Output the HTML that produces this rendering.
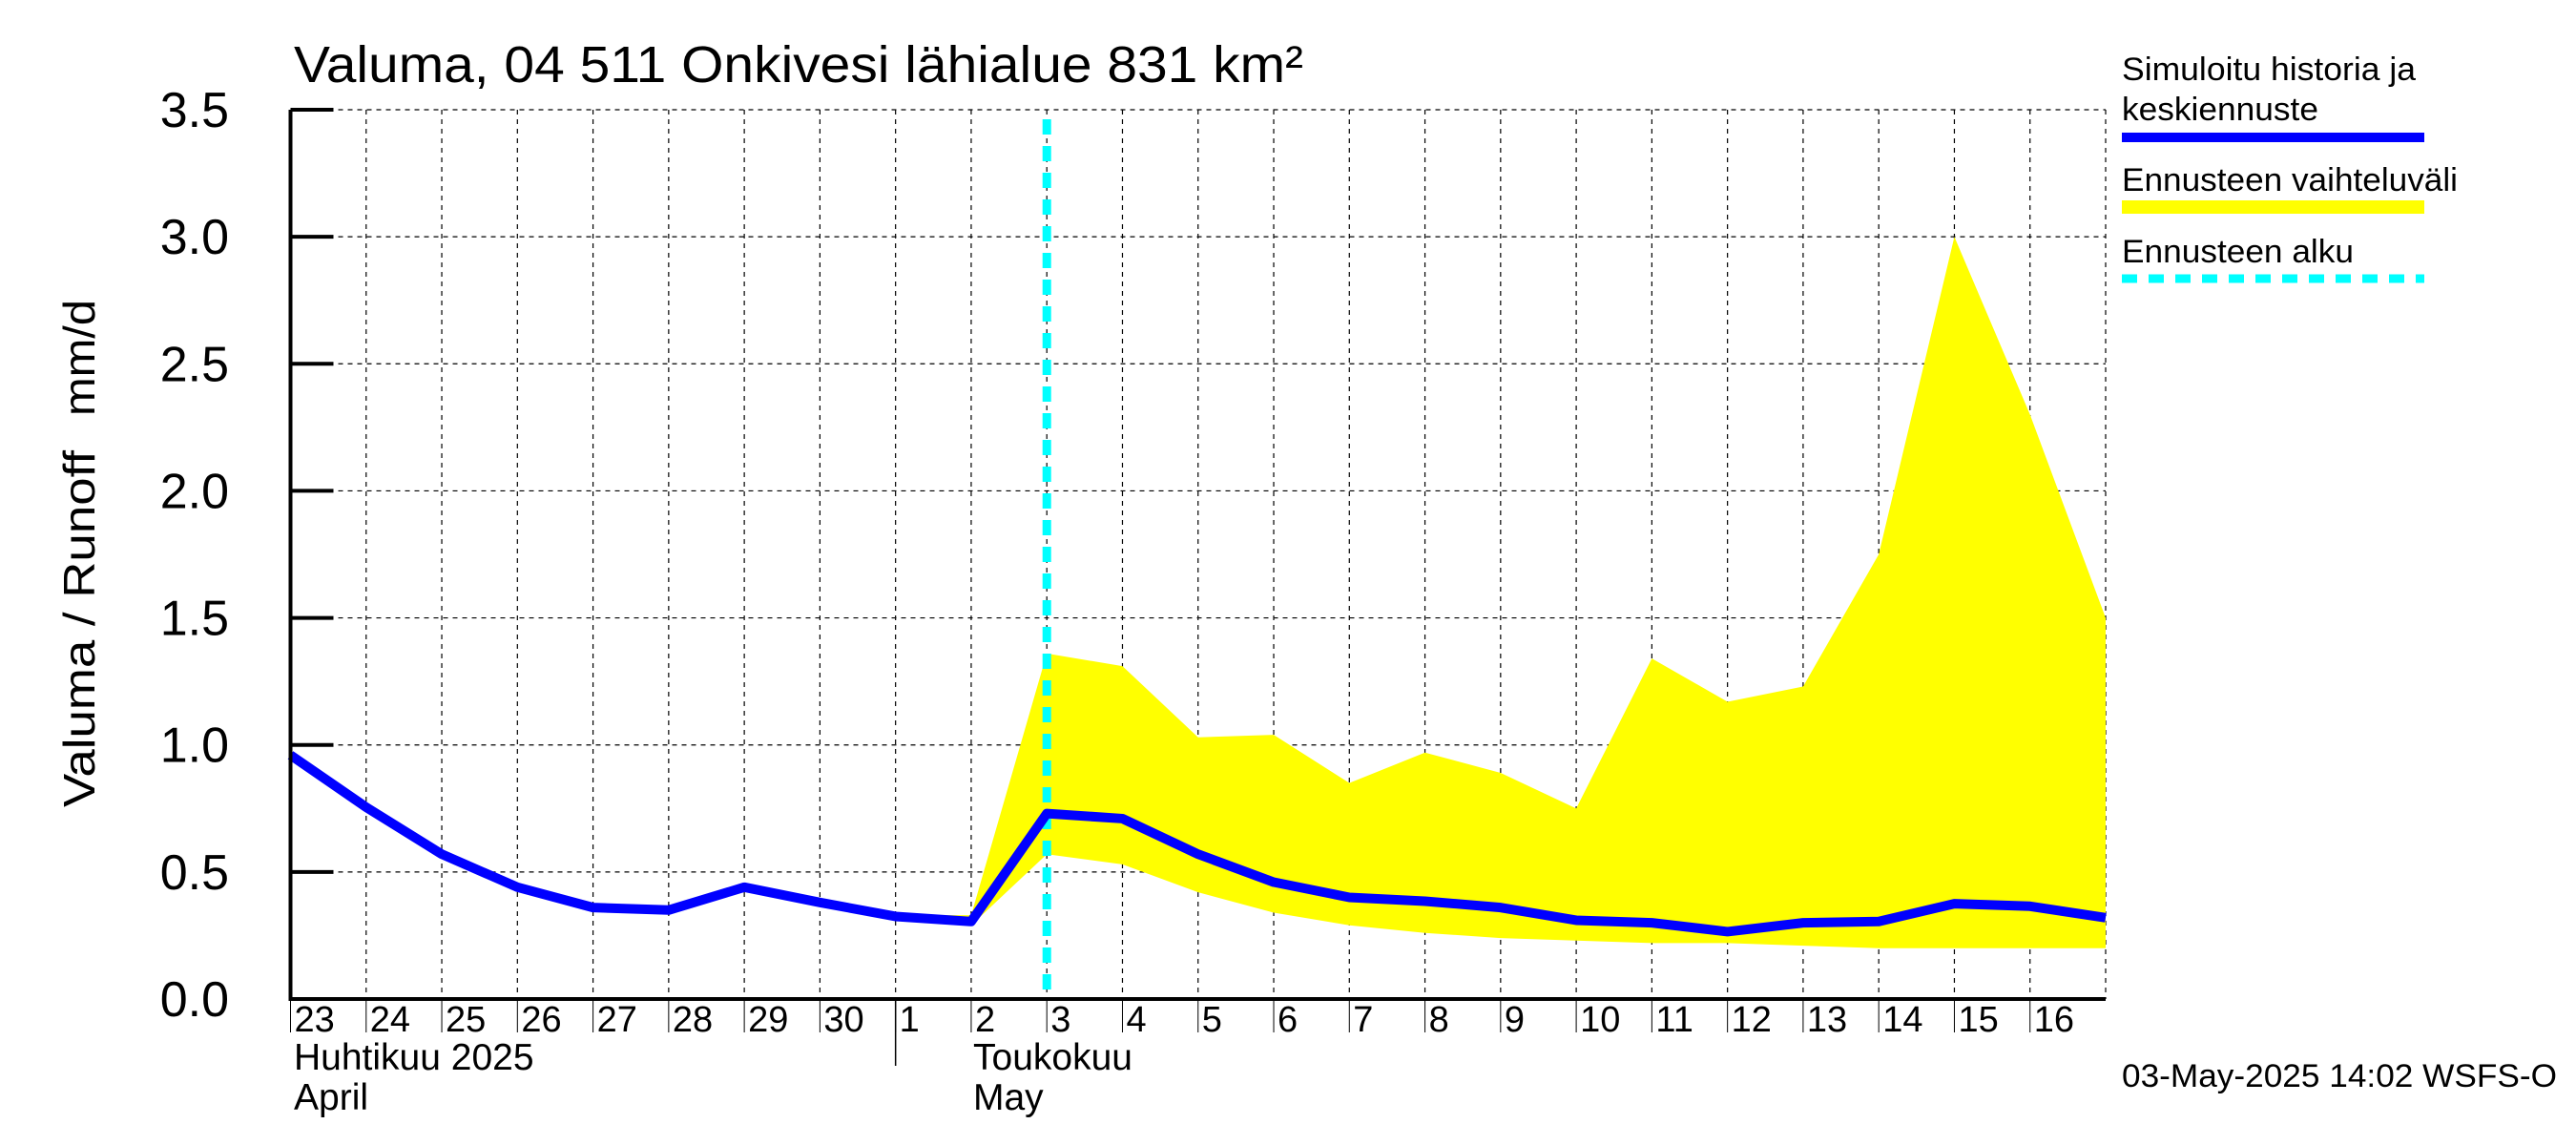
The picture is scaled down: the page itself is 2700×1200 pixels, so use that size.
<!DOCTYPE html>
<html><head><meta charset="utf-8"><style>
html,body{margin:0;padding:0;background:#fff}
svg{display:block;font-family:"Liberation Sans",sans-serif}
</style></head><body>
<svg id="chart" width="2700" height="1200" viewBox="0 0 2700 1200" xmlns="http://www.w3.org/2000/svg">
<text x="308" y="86" font-size="54" textLength="1058" lengthAdjust="spacingAndGlyphs">Valuma, 04 511 Onkivesi lähialue 831 km²</text>
<text transform="translate(99,846) rotate(-90)" font-size="46" textLength="374" lengthAdjust="spacingAndGlyphs">Valuma / Runoff</text>
<text transform="translate(99,436) rotate(-90)" font-size="46" textLength="122" lengthAdjust="spacingAndGlyphs">mm/d</text>
<g id="grid"></g>
<g id="band"></g>
<g id="marks"></g>
<g id="axes"></g>
<g>
<text x="2224" y="84" font-size="34" textLength="308" lengthAdjust="spacingAndGlyphs">Simuloitu historia ja</text>
<text x="2224" y="126" font-size="34" textLength="206" lengthAdjust="spacingAndGlyphs">keskiennuste</text>
<rect x="2224" y="139" width="317" height="10" fill="#0000ff"/>
<text x="2224" y="200" font-size="34" textLength="352" lengthAdjust="spacingAndGlyphs">Ennusteen vaihteluväli</text>
<rect x="2224" y="210" width="317" height="14" fill="#ffff00"/>
<text x="2224" y="275" font-size="34" textLength="243" lengthAdjust="spacingAndGlyphs">Ennusteen alku</text>
<line x1="2224" y1="292" x2="2541" y2="292" stroke="#00ffff" stroke-width="9" stroke-dasharray="16,12"/>
</g>
<text x="2224" y="1139" font-size="34" textLength="456" lengthAdjust="spacingAndGlyphs">03-May-2025 14:02 WSFS-O</text>
</svg>
<script>
const dayLabels = ["23","24","25","26","27","28","29","30","1","2","3","4","5","6","7","8","9","10","11","12","13","14","15","16"];
const simulated = [0.96,0.755,0.57,0.44,0.36,0.35,0.44,0.38,0.325,0.305,0.73,0.71,0.57,0.46,0.40,0.385,0.36,0.31,0.30,0.265,0.30,0.305,0.375,0.365,0.32];
const bandStart = 8;
const bandUpper = [0.33,0.33,1.36,1.31,1.03,1.04,0.85,0.97,0.89,0.75,1.34,1.17,1.23,1.75,3.0,2.3,1.5];
const bandLower = [0.33,0.29,0.57,0.53,0.42,0.34,0.29,0.26,0.24,0.23,0.22,0.22,0.21,0.20,0.20,0.20,0.20];
const yTicks = [0,0.5,1.0,1.5,2.0,2.5,3.0,3.5];
const forecastStartDay = 10;

const NS="http://www.w3.org/2000/svg";
const X0=304.5, X1=2207, Y0=1047, YT=115, NDAYS=24;
const xs = d => X0 + (X1-X0)*d/NDAYS;
const ys = v => Y0 - (Y0-YT)*v/3.5;
function mk(parent,tag,attrs){const e=document.createElementNS(NS,tag);for(const k in attrs)e.setAttribute(k,attrs[k]);document.getElementById(parent).appendChild(e);return e;}

yTicks.forEach((t,i)=>{
  if(t>0){const g=mk('grid','line',{x1:X0,x2:X1,y1:ys(t),y2:ys(t),stroke:'#000','stroke-width':1.2,'stroke-dasharray':'5,5'});
  
  }
  const tk=mk('axes','line',{x1:X0,x2:X0+45,y1:ys(t),y2:ys(t),stroke:'#000','stroke-width':4});
  
  
  const lb=mk('axes','text',{x:240,y:ys(t)+18,'text-anchor':'end','font-size':52});
  lb.textContent=t.toFixed(1);
  
  
});
for(let d=1;d<=NDAYS;d++){
  const g=mk('grid','line',{x1:xs(d),x2:xs(d),y1:YT,y2:Y0,stroke:'#000','stroke-width':1.2,'stroke-dasharray':'5,5'});
  
  
}
let pts=[];
bandUpper.forEach((v,i)=>pts.push(xs(bandStart+i)+','+ys(v)));
for(let i=bandLower.length-1;i>=0;i--)pts.push(xs(bandStart+i)+','+ys(bandLower[i]));
const band=mk('band','polygon',{points:pts.join(' '),fill:'#ffff00'});


const fs=mk('marks','line',{x1:xs(forecastStartDay),x2:xs(forecastStartDay),y1:YT+10,y2:Y0,stroke:'#00ffff','stroke-width':9,'stroke-dasharray':'16,12'});


const sl=mk('marks','polyline',{points:simulated.map((v,i)=>xs(i)+','+ys(v)).join(' '),fill:'none',stroke:'#0000ff','stroke-width':10,'stroke-linejoin':'round'});


const ax=mk('axes','polyline',{points:`${X0},${YT} ${X0},${Y0} ${X1},${Y0}`,fill:'none',stroke:'#000','stroke-width':4});


dayLabels.forEach((l,i)=>{
  const t=mk('axes','text',{x:xs(i)+4,y:1081,'font-size':38});
  t.textContent=l;
  
  
  const tk=mk('axes','line',{x1:xs(i),x2:xs(i),y1:Y0,y2:Y0+35,stroke:'#000','stroke-width':1});
  
  
});
const sep=mk('axes','line',{x1:xs(8),x2:xs(8),y1:Y0,y2:1117,stroke:'#000','stroke-width':1.5});


[["Huhtikuu  2025",308,1121,'month-label-fi-april'],["April",308,1163,'month-label-en-april'],["Toukokuu",1020,1121,'month-label-fi-may'],["May",1020,1163,'month-label-en-may']].forEach(m=>{
  const t=mk('axes','text',{x:m[1],y:m[2],'font-size':39});
  t.setAttribute('xml:space','preserve');
  t.textContent=m[0];
  
  
});
</script>
</body></html>
